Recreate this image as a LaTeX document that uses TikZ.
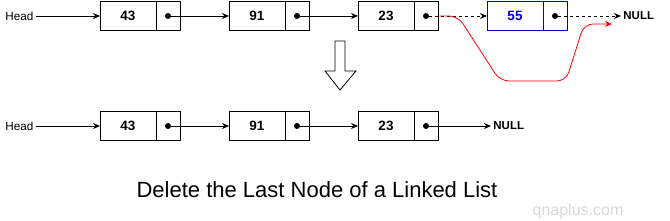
\documentclass[tikz,border=0pt]{standalone}
\usepackage{fontspec}
\setmainfont{Liberation Sans}
\usetikzlibrary{arrows.meta, positioning, calc}
\definecolor{delcolor}{RGB}{0,0,204}
\definecolor{linkred}{RGB}{255,0,0}
\definecolor{markgray}{RGB}{215,215,215}

\begin{document}
\begin{tikzpicture}[x=1pt, y=1pt,
    data/.style={draw, minimum width=56pt, minimum height=29pt, inner sep=0pt, outer sep=0pt, font=\fontsize{13.5}{15}\selectfont\bfseries},
    ptr/.style={draw, minimum width=24pt, minimum height=29pt, inner sep=0pt, outer sep=0pt},
    dot/.style={circle, fill, inner sep=0pt, minimum size=6pt},
    lbl/.style={font=\fontsize{11.7}{13}\selectfont, inner sep=2pt},
    nul/.style={font=\fontsize{11.5}{13}\selectfont\bfseries, inner sep=2pt},
    link/.style={->},
    gone/.style={->, dash pattern=on 3pt off 3pt},
    >={Stealth[length=7pt, width=6pt]}, line width=0.8pt, node distance=49pt
  ]
  \useasboundingbox (0,0) rectangle (670,221);

  % list before the delete
  \node[lbl, anchor=west] (head1) at (3,205) {Head};
  \node[data] (t43) at (128,205) {43};
  \node[ptr, right=0pt of t43] (tp43) {};
  \node[data, right=of tp43] (t91) {91};
  \node[ptr, right=0pt of t91] (tp91) {};
  \node[data, right=of tp91] (t23) {23};
  \node[ptr, right=0pt of t23] (tp23) {};
  \node[data, draw=delcolor, text=delcolor, right=of tp23] (t55) {55};
  \node[ptr, draw=delcolor, right=0pt of t55] (tp55) {};
  \node[nul, anchor=west] (null1) at (621,205) {NULL};
  \coordinate (redend) at ($(null1.west)+(-9,-8)$);

  \node[dot] (td43) at (tp43.center) {};
  \node[dot] (td91) at (tp91.center) {};
  \node[dot] (td23) at (tp23.center) {};
  \node[dot] (td55) at (tp55.center) {};

  \draw[link] (head1) -- (t43);
  \draw[link] (td43) -- (t91);
  \draw[link] (td91) -- (t23);
  \draw[gone] (td23) -- (t55);
  \draw[gone] (td55) -- (null1);
  \draw[link, linkred, rounded corners=9pt] (tp23.east) -- ++(20,0) -- (500,140) -- (566,140) -- (584,197) -- (redend);

  % hollow arrow between the lists
  \draw[line width=0.8pt] (335,180) -- (345,180) -- (345,150) -- (356,150) -- (340,131) -- (325,150) -- (335,150) -- cycle;

  % list after the delete
  \node[lbl, anchor=west] (head2) at (3,95) {Head};
  \node[data] (b43) at (128,95) {43};
  \node[ptr, right=0pt of b43] (bp43) {};
  \node[data, right=of bp43] (b91) {91};
  \node[ptr, right=0pt of b91] (bp91) {};
  \node[data, right=of bp91] (b23) {23};
  \node[ptr, right=0pt of b23] (bp23) {};
  \node[nul, anchor=west] (null2) at (491,95) {NULL};

  \node[dot] (bd43) at (bp43.center) {};
  \node[dot] (bd91) at (bp91.center) {};
  \node[dot] (bd23) at (bp23.center) {};

  \draw[link] (head2) -- (b43);
  \draw[link] (bd43) -- (b91);
  \draw[link] (bd91) -- (b23);
  \draw[link] (bd23) -- (null2);

  \node[font=\fontsize{22}{26}\selectfont] (title) at (317,31) {Delete the Last Node of a Linked List};
  \node[font=\fontsize{16}{18}\selectfont, text=markgray] (mark) at (578,10) {qnaplus.com};
\end{tikzpicture}
\end{document}
